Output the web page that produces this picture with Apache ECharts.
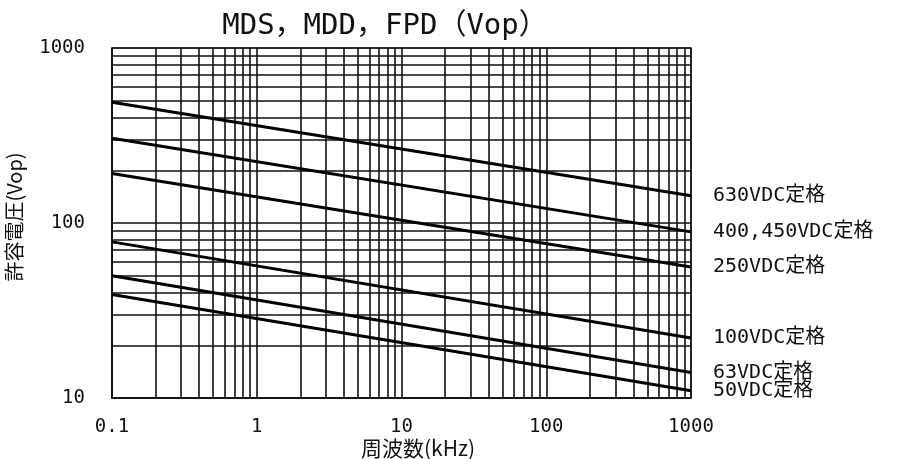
<!DOCTYPE html>
<html>
<head>
<meta charset="utf-8">
<script src="https://cdn.jsdelivr.net/npm/echarts@6/dist/echarts.min.js"></script>
<style>html,body{margin:0;padding:0;background:#fff;}#c{width:909px;height:459px;}</style>
</head>
<body>
<div id="c"></div>
<script>
// ---- data ----
var freq = [0.1, 1000];               // kHz, start/end of each straight line
var v630 = [490, 143];
var v400 = [305, 89];
var v250 = [192, 56];
var v100 = [78, 22];
var v63  = [50, 14];
var v50  = [39, 11];
var seriesNames = ['630VDC定格', '400,450VDC定格', '250VDC定格', '100VDC定格', '63VDC定格', '50VDC定格'];
var seriesValues = [v630, v400, v250, v100, v63, v50];
var xDecades = [0.1, 1, 10, 100];
var yDecades = [10, 100];
var minorMult = [2, 3, 4, 5, 6, 7, 8, 9];
var title = 'MDS，MDD，FPD（Vop）';
var xName = '周波数(kHz)';
var yName = '許容電圧(Vop)';

var MONO = "'DejaVu Sans Mono','Noto Sans CJK JP',monospace";
var CJK = "'Noto Sans CJK JP','DejaVu Sans',sans-serif";

var vLines = [], hLines = [];
xDecades.forEach(function (d) { minorMult.forEach(function (m) { vLines.push({ xAxis: +(d * m).toPrecision(6) }); }); });
yDecades.forEach(function (d) { minorMult.forEach(function (m) { hLines.push({ yAxis: +(d * m).toPrecision(6) }); }); });

var series = seriesNames.map(function (name, i) {
  var s = {
    name: name,
    type: 'line',
    data: freq.map(function (f, j) { return [f, seriesValues[i][j]]; }),
    showSymbol: false,
    symbol: 'none',
    lineStyle: { color: '#000', width: 3 },
    z: 5,
    endLabel: {
      show: true,
      formatter: name,
      distance: 22,
      color: '#111',
      fontFamily: MONO,
      fontSize: 20
    }
  };
  if (i === 0) {
    s.markLine = {
      silent: true,
      symbol: ['none', 'none'],
      animation: false,
      label: { show: false },
      lineStyle: { color: '#111', width: 1.6, type: 'solid' },
      data: vLines.concat(hLines)
    };
  }
  return s;
});

var chart = echarts.init(document.getElementById('c'));
chart.setOption({
  animation: false,
  backgroundColor: '#fff',
  title: {
    text: title,
    left: 380,
    textAlign: 'center',
    top: 7,
    textStyle: { fontFamily: MONO, fontSize: 29, fontWeight: 'normal', color: '#111' }
  },
  grid: { left: 112, right: 218, top: 48, bottom: 61, containLabel: false, outerBoundsMode: 'none', show: true, borderColor: '#444', borderWidth: 1.5, backgroundColor: 'transparent' },
  xAxis: {
    type: 'log',
    logBase: 10,
    min: 0.1,
    max: 1000,
    name: xName,
    nameLocation: 'middle',
    nameGap: 40,
    nameMoveOverlap: false,
    nameTextStyle: { fontFamily: CJK, fontSize: 21, color: '#111', padding: [0, 0, 0, 33] },
    axisLine: { show: true, lineStyle: { color: '#111', width: 1.6 } },
    axisTick: { show: false },
    splitLine: { show: true, lineStyle: { color: '#111', width: 1.6 } },
    axisLabel: {
      margin: 20,
      fontFamily: MONO,
      fontSize: 19,
      color: '#111',
      formatter: function (v) { return String(+(+v).toPrecision(6)); }
    }
  },
  yAxis: {
    type: 'log',
    logBase: 10,
    min: 10,
    max: 1000,
    name: yName,
    nameLocation: 'middle',
    nameGap: 88,
    nameMoveOverlap: false,
    nameRotate: 90,
    nameTextStyle: { fontFamily: CJK, fontSize: 20, color: '#111', padding: [0, 0, 0, 12] },
    axisLine: { show: true, lineStyle: { color: '#111', width: 1.6 } },
    axisTick: { show: false },
    splitLine: { show: true, lineStyle: { color: '#111', width: 1.6 } },
    axisLabel: {
      margin: 27,
      fontFamily: MONO,
      fontSize: 19,
      color: '#111',
      formatter: function (v) { return String(+(+v).toPrecision(6)); }
    }
  },
  series: series
});
</script>
</body>
</html>
